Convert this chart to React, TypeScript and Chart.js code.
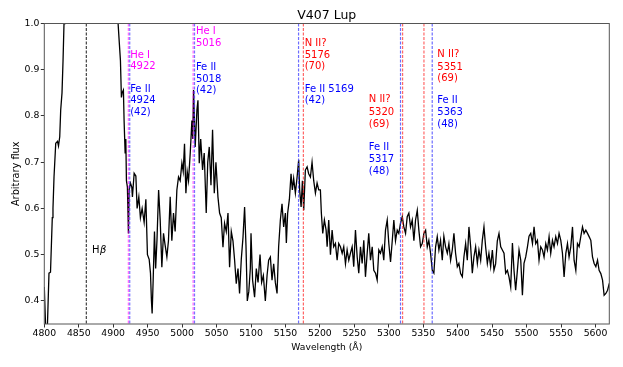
import React, { useEffect, useRef } from "react";
import { Chart, registerables } from "chart.js";
Chart.register(...registerables);

const FONT = '"DejaVu Sans", "Liberation Sans", sans-serif';

// Spectrum (wavelength in Å, arbitrary flux)
const wavelengths = [
  4800.0, 4802.0, 4804.5, 4806.8, 4809.0, 4811.6, 4812.6, 4814.1, 4816.6, 4819.2,
  4820.6, 4822.4, 4823.8, 4825.7, 4827.2, 4828.6, 4830.0, 4845.0, 4861.0, 4880.0,
  4900.0, 4907.1, 4908.6, 4910.5, 4911.9, 4912.9, 4914.8, 4915.8, 4917.3, 4918.3,
  4919.2, 4920.6, 4922.1, 4923.1, 4925.0, 4927.0, 4927.9, 4930.4, 4932.9, 4934.7,
  4937.2, 4939.5, 4942.0, 4944.9, 4947.4, 4949.7, 4952.2, 4954.1, 4955.5, 4956.5,
  4958.0, 4959.9, 4961.6, 4963.5, 4965.9, 4968.2, 4970.6, 4973.0, 4975.4, 4977.9,
  4980.2, 4982.7, 4985.1, 4987.5, 4989.9, 4992.4, 4994.8, 4997.2, 4999.7, 5001.6,
  5003.5, 5005.5, 5007.4, 5009.3, 5011.8, 5014.2, 5015.4, 5016.6, 5019.0, 5021.5,
  5023.0, 5024.9, 5027.0, 5029.7, 5032.1, 5035.0, 5037.2, 5039.4, 5041.9, 5044.2,
  5046.7, 5049.1, 5052.0, 5054.4, 5056.8, 5059.3, 5061.6, 5064.1, 5066.6, 5068.9,
  5071.4, 5073.8, 5076.2, 5078.6, 5081.1, 5083.4, 5085.9, 5088.4, 5090.7, 5092.7,
  5094.6, 5096.8, 5099.0, 5100.0, 5102.3, 5105.2, 5107.7, 5110.2, 5113.1, 5115.4,
  5117.9, 5120.8, 5123.3, 5125.6, 5128.1, 5130.5, 5132.9, 5135.3, 5137.8, 5140.1,
  5142.6, 5145.0, 5147.4, 5149.9, 5151.3, 5153.2, 5155.7, 5158.1, 5160.0, 5161.9,
  5164.4, 5166.9, 5169.2, 5170.6, 5172.7, 5174.6, 5176.5, 5178.9, 5181.4, 5183.7,
  5186.2, 5188.6, 5191.0, 5193.5, 5195.9, 5198.3, 5200.7, 5202.1, 5204.1, 5206.5,
  5209.0, 5210.5, 5212.8, 5215.3, 5217.7, 5220.0, 5222.5, 5225.0, 5227.3, 5229.8,
  5232.3, 5234.6, 5237.1, 5239.5, 5241.9, 5244.3, 5246.8, 5249.1, 5251.6, 5254.1,
  5256.4, 5258.9, 5261.3, 5263.7, 5266.1, 5268.6, 5270.9, 5273.4, 5275.9, 5278.2,
  5280.7, 5283.1, 5285.5, 5287.9, 5290.4, 5292.7, 5295.2, 5297.7, 5300.0, 5302.5,
  5305.0, 5307.3, 5309.7, 5312.2, 5314.5, 5317.0, 5319.5, 5321.8, 5324.3, 5326.7,
  5329.1, 5331.5, 5334.0, 5336.4, 5338.8, 5341.3, 5343.6, 5346.1, 5348.5, 5350.9,
  5353.4, 5355.8, 5358.1, 5360.6, 5363.1, 5365.4, 5367.9, 5370.3, 5372.7, 5375.1,
  5377.6, 5379.9, 5382.4, 5384.9, 5387.2, 5389.7, 5392.1, 5394.5, 5396.9, 5399.4,
  5401.7, 5404.2, 5406.7, 5409.0, 5411.5, 5413.9, 5416.3, 5418.8, 5421.2, 5423.5,
  5426.0, 5428.5, 5430.8, 5433.3, 5435.7, 5438.1, 5440.5, 5443.0, 5445.3, 5447.8,
  5450.3, 5452.6, 5455.0, 5457.5, 5459.9, 5462.4, 5464.8, 5467.2, 5469.6, 5472.1,
  5474.4, 5476.9, 5479.4, 5481.7, 5484.1, 5486.6, 5489.0, 5491.5, 5493.9, 5496.2,
  5498.7, 5501.2, 5503.5, 5506.0, 5508.5, 5510.8, 5513.2, 5515.7, 5518.0, 5520.5,
  5523.0, 5525.3, 5527.8, 5530.2, 5532.6, 5535.0, 5537.5, 5539.8, 5542.3, 5544.8,
  5547.1, 5549.6, 5552.0, 5554.4, 5556.9, 5559.3, 5561.6, 5564.1, 5566.6, 5568.9,
  5571.4, 5573.8, 5576.2, 5578.6, 5581.1, 5583.4, 5585.9, 5588.4, 5590.7, 5593.2,
  5595.6, 5598.0, 5600.5, 5602.9, 5605.2, 5607.7, 5610.2, 5612.5, 5615.0, 5617.5,
  5619.8, 5621.0,
];

const flux = [
  0.430, 0.340, 0.345, 0.460, 0.462, 0.580, 0.600, 0.668, 0.741, 0.745,
  0.735, 0.755, 0.813, 0.850, 0.920, 1.000, 1.050, 1.600, 2.000, 1.600,
  1.120, 1.000, 0.964, 0.920, 0.840, 0.850, 0.856, 0.790, 0.720, 0.750,
  0.660, 0.646, 0.546, 0.640, 0.655, 0.646, 0.625, 0.676, 0.670, 0.600,
  0.625, 0.580, 0.600, 0.570, 0.620, 0.500, 0.490, 0.460, 0.400, 0.373,
  0.445, 0.550, 0.470, 0.530, 0.640, 0.575, 0.473, 0.546, 0.520, 0.495,
  0.530, 0.625, 0.530, 0.590, 0.550, 0.640, 0.668, 0.660, 0.698, 0.680,
  0.740, 0.633, 0.680, 0.660, 0.720, 0.790, 0.750, 0.856, 0.733, 0.813,
  0.834, 0.698, 0.750, 0.683, 0.720, 0.590, 0.700, 0.733, 0.650, 0.770,
  0.633, 0.700, 0.625, 0.590, 0.580, 0.516, 0.568, 0.550, 0.590, 0.473,
  0.550, 0.530, 0.488, 0.437, 0.470, 0.416, 0.490, 0.538, 0.603, 0.520,
  0.400, 0.420, 0.470, 0.546, 0.445, 0.408, 0.470, 0.440, 0.500, 0.440,
  0.455, 0.400, 0.455, 0.488, 0.495, 0.445, 0.480, 0.440, 0.416, 0.517,
  0.575, 0.610, 0.560, 0.590, 0.525, 0.590, 0.620, 0.675, 0.640, 0.665,
  0.633, 0.668, 0.705, 0.640, 0.603, 0.660, 0.596, 0.683, 0.690, 0.675,
  0.668, 0.700, 0.660, 0.633, 0.655, 0.640, 0.640, 0.590, 0.546, 0.575,
  0.553, 0.517, 0.575, 0.500, 0.553, 0.517, 0.524, 0.488, 0.524, 0.517,
  0.503, 0.517, 0.480, 0.510, 0.488, 0.503, 0.517, 0.474, 0.553, 0.495,
  0.460, 0.517, 0.481, 0.531, 0.452, 0.503, 0.546, 0.488, 0.517, 0.466,
  0.460, 0.445, 0.510, 0.503, 0.517, 0.488, 0.553, 0.575, 0.524, 0.484,
  0.530, 0.575, 0.530, 0.553, 0.546, 0.568, 0.582, 0.560, 0.546, 0.582,
  0.590, 0.560, 0.575, 0.530, 0.575, 0.596, 0.553, 0.517, 0.524, 0.546,
  0.553, 0.517, 0.531, 0.503, 0.466, 0.460, 0.517, 0.539, 0.510, 0.531,
  0.488, 0.540, 0.517, 0.503, 0.524, 0.488, 0.510, 0.546, 0.503, 0.474,
  0.481, 0.459, 0.452, 0.495, 0.524, 0.488, 0.560, 0.517, 0.460, 0.495,
  0.517, 0.481, 0.510, 0.488, 0.531, 0.560, 0.517, 0.481, 0.503, 0.474,
  0.510, 0.466, 0.480, 0.530, 0.546, 0.517, 0.510, 0.503, 0.460, 0.466,
  0.452, 0.430, 0.525, 0.466, 0.423, 0.466, 0.510, 0.488, 0.412, 0.481,
  0.495, 0.517, 0.540, 0.546, 0.524, 0.560, 0.524, 0.531, 0.488, 0.517,
  0.510, 0.495, 0.524, 0.510, 0.539, 0.503, 0.531, 0.517, 0.539, 0.524,
  0.546, 0.531, 0.503, 0.452, 0.503, 0.524, 0.495, 0.517, 0.560, 0.488,
  0.466, 0.524, 0.517, 0.539, 0.560, 0.546, 0.553, 0.546, 0.539, 0.531,
  0.495, 0.481, 0.474, 0.488, 0.466, 0.459, 0.445, 0.412, 0.416, 0.423,
  0.437, 0.452,
];

// Axis ranges and ticks
const xRange = [4800, 5620];
const yRange = [0.35, 1.0];
const xStep = 50;
const yStep = 0.1;

// Identified lines (vertical dashed markers)
const lineWavelengths = [4861, 4922, 4924, 5016, 5018, 5169, 5176, 5317, 5320, 5351, 5363];
const lineColors = [
  "rgba(0,0,0,0.75)",
  "rgba(255,0,255,0.6)", "rgba(60,60,255,0.7)",
  "rgba(255,0,255,0.6)", "rgba(60,60,255,0.7)",
  "rgba(60,60,255,0.75)", "rgba(255,40,40,0.7)",
  "rgba(60,60,255,0.75)", "rgba(255,40,40,0.7)",
  "rgba(255,40,40,0.7)", "rgba(60,60,255,0.75)",
];

// Line identification labels (text, wavelength anchor, flux anchor, colour)
const labelTexts = [
  "He I", "4922",
  "Fe II", "4924", "(42)",
  "He I", "5016",
  "Fe II", "5018", "(42)",
  "N II?", "5176", "(70)",
  "Fe II 5169", "(42)",
  "N II?", "5320", "(69)",
  "Fe II", "5317", "(48)",
  "N II?", "5351", "(69)",
  "Fe II", "5363", "(48)",
];
const labelWavelengths = [
  4924.6, 4924.6,
  4924.6, 4924.6, 4924.6,
  5020.0, 5020.0,
  5020.0, 5020.0, 5020.0,
  5177.9, 5177.9, 5177.9,
  5177.9, 5177.9,
  5270.9, 5270.9, 5270.9,
  5270.9, 5270.9, 5270.9,
  5370.4, 5370.4, 5370.4,
  5370.4, 5370.4, 5370.4,
];
const labelFlux = [
  0.932, 0.908,
  0.858, 0.834, 0.808,
  0.982, 0.958,
  0.906, 0.878, 0.856,
  0.958, 0.932, 0.908,
  0.858, 0.833,
  0.836, 0.808, 0.782,
  0.733, 0.707, 0.681,
  0.933, 0.906, 0.881,
  0.833, 0.807, 0.782,
];
const labelColors = [
  "#ff00ff", "#ff00ff",
  "#0000ff", "#0000ff", "#0000ff",
  "#ff00ff", "#ff00ff",
  "#0000ff", "#0000ff", "#0000ff",
  "#ff0000", "#ff0000", "#ff0000",
  "#0000ff", "#0000ff",
  "#ff0000", "#ff0000", "#ff0000",
  "#0000ff", "#0000ff", "#0000ff",
  "#ff0000", "#ff0000", "#ff0000",
  "#0000ff", "#0000ff", "#0000ff",
];
const hBetaLabel = { wavelength: 4869.3, flux: 0.51 };

const title = "V407 Lup";
const xTitle = "Wavelength (Å)";
const yTitle = "Arbitrary flux";

const decorPlugin = {
  id: "decor",
  afterDatasetsDraw(chart: any) {
    const { ctx, chartArea: a, scales } = chart;
    const xs = scales.x;
    const ys = scales.y;
    ctx.save();
    ctx.beginPath();
    ctx.rect(a.left, a.top, a.right - a.left, a.bottom - a.top);
    ctx.clip();
    ctx.lineWidth = 1.2;
    ctx.setLineDash([3, 1.5]);
    lineWavelengths.forEach((w, i) => {
      const px = xs.getPixelForValue(w);
      ctx.strokeStyle = lineColors[i];
      ctx.beginPath();
      ctx.moveTo(px, a.top);
      ctx.lineTo(px, a.bottom);
      ctx.stroke();
    });
    ctx.setLineDash([]);
    ctx.restore();

    ctx.save();
    ctx.font = `10px ${FONT}`;
    ctx.textAlign = "left";
    ctx.textBaseline = "middle";
    labelTexts.forEach((t, i) => {
      ctx.fillStyle = labelColors[i];
      ctx.fillText(t, xs.getPixelForValue(labelWavelengths[i]), ys.getPixelForValue(labelFlux[i]));
    });
    // H beta
    const hx = xs.getPixelForValue(hBetaLabel.wavelength);
    const hy = ys.getPixelForValue(hBetaLabel.flux);
    ctx.fillStyle = "#000";
    ctx.fillText("H", hx, hy);
    const hw = ctx.measureText("H").width;
    ctx.font = `italic 10px ${FONT}`;
    ctx.fillText("β", hx + hw + 0.5, hy);
    ctx.restore();
  },
  afterDraw(chart: any) {
    const { ctx, chartArea: a } = chart;
    ctx.save();
    ctx.strokeStyle = "#555";
    ctx.lineWidth = 1;
    ctx.strokeRect(a.left, a.top, a.right - a.left, a.bottom - a.top);
    ctx.font = `12.5px ${FONT}`;
    ctx.fillStyle = "#000";
    ctx.textAlign = "center";
    ctx.textBaseline = "alphabetic";
    ctx.fillText(title, (a.left + a.right) / 2, a.top - 4.5);
    ctx.restore();
  },
};

export default function App() {
  const ref = useRef<HTMLCanvasElement>(null);
  useEffect(() => {
    const canvas = ref.current;
    if (!canvas) return;
    const chart = new Chart(canvas, {
      type: "line",
      data: {
        datasets: [
          {
            data: wavelengths.map((w, i) => ({ x: w, y: flux[i] })),
            borderColor: "#000",
            borderWidth: 1.3,
            pointRadius: 0,
            tension: 0,
            fill: false,
          },
        ],
      },
      options: {
        responsive: false,
        animation: false,
        devicePixelRatio: 1,
        layout: { padding: { left: 0, right: 13.7, top: 23.5, bottom: 0 } },
        plugins: {
          legend: { display: false },
          tooltip: { enabled: false },
          title: { display: false },
        },
        scales: {
          x: {
            type: "linear",
            min: xRange[0],
            max: xRange[1],
            ticks: {
              stepSize: xStep,
              includeBounds: false,
              autoSkip: false,
              maxRotation: 0,
              callback: (v: any) => String(v),
              font: { family: FONT, size: 9.3 },
              color: "#000",
              padding: 1,
            },
            grid: { drawOnChartArea: false, drawTicks: true, tickLength: 3.5, color: "#333" },
            border: { display: false },
            title: {
              display: true,
              text: xTitle,
              font: { family: FONT, size: 9.2 },
              color: "#000",
              padding: { top: 0, bottom: 14.1 },
            },
            afterFit: (s: any) => {
              s.height = 43;
            },
          },
          y: {
            type: "linear",
            min: yRange[0],
            max: yRange[1],
            ticks: {
              stepSize: yStep,
              includeBounds: false,
              callback: (v: any) => Number(v).toFixed(1),
              font: { family: FONT, size: 9.3 },
              color: "#000",
              padding: 1.5,
            },
            grid: { drawOnChartArea: false, drawTicks: true, tickLength: 3.5, color: "#333" },
            border: { display: false },
            title: {
              display: true,
              text: yTitle,
              font: { family: FONT, size: 9.8 },
              color: "#000",
              padding: { top: 10.6, bottom: 0 },
            },
            afterFit: (s: any) => {
              s.width = 44.3;
            },
          },
        },
      },
      plugins: [decorPlugin],
    } as any);
    return () => chart.destroy();
  }, []);
  return (
    <div style={{ position: "fixed", left: 0, top: 0, width: 623, height: 367, background: "#fff" }}>
      <canvas ref={ref} width={623} height={367} style={{ display: "block" }} />
    </div>
  );
}
